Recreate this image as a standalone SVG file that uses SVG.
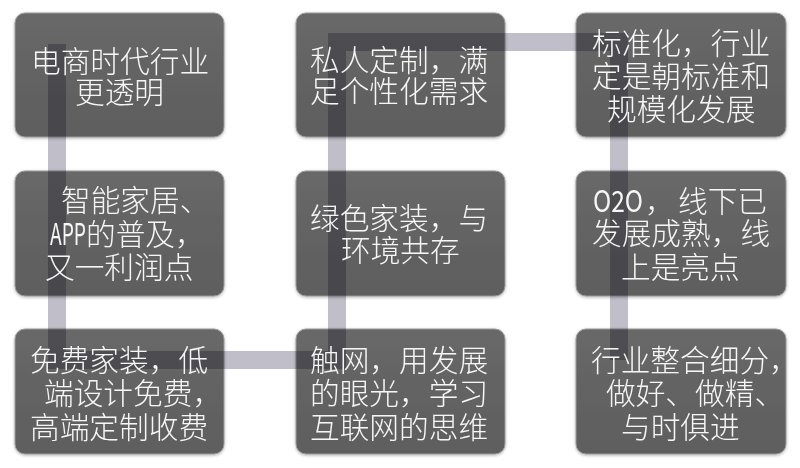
<svg xmlns="http://www.w3.org/2000/svg" width="800" height="468" viewBox="0 0 800 468">
<defs>
<linearGradient id="boxg" x1="0" y1="0" x2="0" y2="1">
<stop offset="0" stop-color="#686868"/>
<stop offset="1" stop-color="#5e5e5e"/>
</linearGradient>
<filter id="sh" x="-10%" y="-10%" width="120%" height="125%">
<feDropShadow dx="0" dy="1" stdDeviation="1.5" flood-color="#000" flood-opacity="0.3"/>
</filter>
</defs>
<style>
.box{fill:url(#boxg);stroke:#9a9a9a;stroke-width:1;filter:url(#sh);mix-blend-mode:multiply}
.t{font-family:"Noto Sans CJK SC","Noto Sans",sans-serif;font-size:29.7px;font-weight:300;fill:#f6f6f6}
.lat{font-weight:400}
.conn{fill:none;stroke:#c0bec9;stroke-width:18;stroke-linecap:square;stroke-linejoin:miter}
</style>
<rect width="800" height="468" fill="#ffffff"/>
<g id="connectors">
<path class="conn" d="M57,53 V360 H337 V42 H619 V351"/>
</g>
<g id="n1">
<rect class="box" x="15" y="13" width="209" height="124" rx="10"/>
<text class="t" x="31" y="72">电商时代行业</text>
<text class="t" x="75" y="103">更透明</text>
</g>
<g id="n2">
<rect class="box" x="296" y="13" width="209" height="124" rx="10"/>
<text class="t" x="310" y="71">私人定制，满</text>
<text class="t" x="310" y="102">足个性化需求</text>
</g>
<g id="n3">
<rect class="box" x="576" y="13" width="210" height="124" rx="10"/>
<text class="t" x="592" y="54">标准化，行业</text>
<text class="t" x="592" y="87">定是朝标准和</text>
<text class="t" x="607" y="120">规模化发展</text>
</g>
<g id="n4">
<rect class="box" x="15" y="171" width="209" height="125" rx="10"/>
<text class="t" x="61" y="211">智能家居、</text>
<text class="t lat" x="50" y="245" textLength="36" lengthAdjust="spacingAndGlyphs">APP</text>
<text class="t" x="86" y="245">的普及，</text>
<text class="t" x="45" y="278">又一利润点</text>
</g>
<g id="n5">
<rect class="box" x="296" y="171" width="209" height="125" rx="10"/>
<text class="t" x="310" y="229">绿色家装，与</text>
<text class="t" x="341" y="261">环境共存</text>
</g>
<g id="n6">
<rect class="box" x="576" y="171" width="210" height="125" rx="10"/>
<text class="t lat" x="593" y="212" textLength="50" lengthAdjust="spacingAndGlyphs">O2O</text>
<text class="t" x="645" y="212">，</text>
<text class="t" x="678" y="212">线下已</text>
<text class="t" x="592" y="244">发展成熟，线</text>
<text class="t" x="621" y="278">上是亮点</text>
</g>
<g id="n7">
<rect class="box" x="15" y="329" width="209" height="125" rx="10"/>
<text class="t" x="30" y="371">免费家装，低</text>
<text class="t" x="44" y="404">端设计免费，</text>
<text class="t" x="30" y="438">高端定制收费</text>
</g>
<g id="n8">
<rect class="box" x="296" y="329" width="209" height="125" rx="10"/>
<text class="t" x="310" y="371">触网，用发展</text>
<text class="t" x="310" y="404">的眼光，学习</text>
<text class="t" x="310" y="438">互联网的思维</text>
</g>
<g id="n9">
<rect class="box" x="576" y="329" width="210" height="125" rx="10"/>
<text class="t" x="591" y="371">行业整合细分，</text>
<text class="t" x="606" y="404">做好、做精、</text>
<text class="t" x="621" y="438">与时俱进</text>
</g>
</svg>
